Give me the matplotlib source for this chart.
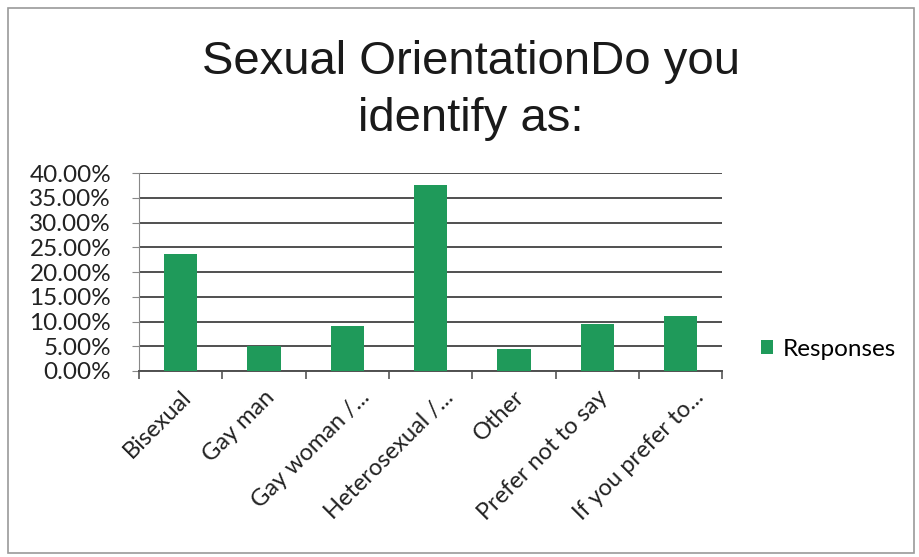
import matplotlib
matplotlib.use("Agg")
import matplotlib.pyplot as plt
from matplotlib.patches import Rectangle
from matplotlib.ticker import FuncFormatter, FixedLocator
from matplotlib.transforms import ScaledTranslation

categories = ["Bisexual", "Gay man", "Gay woman /...", "Heterosexual /...",
              "Other", "Prefer not to say", "If you prefer to..."]
responses = [23.6, 5.1, 9.0, 37.6, 4.5, 9.5, 11.2]
title = "Sexual OrientationDo you\nidentify as:"
series_name = "Responses"

green = "#1f9a5a"
tick_font = "Lato"

fig = plt.figure(figsize=(9.2, 5.57), dpi=100)
fig.patches.append(Rectangle((0.009, 0.008), 0.985, 0.978, transform=fig.transFigure,
                             fill=False, edgecolor="#9a9a9a", linewidth=1.2))
ax = fig.add_axes([0.151, 0.334, 0.634, 0.355])

x = list(range(len(categories)))
bars = ax.bar(x, responses, width=0.4, color=green, label=series_name, zorder=3)

ax.set_xlim(-0.5, len(categories) - 0.5)
ax.set_ylim(0, 40)
ax.set_yticks([0, 5, 10, 15, 20, 25, 30, 35, 40])
ax.yaxis.set_major_formatter(FuncFormatter(lambda v, p: f"{v:.2f}%"))
ax.grid(axis="y", color="#505050", linewidth=1.4, zorder=0)

ax.set_xticks(x)
ax.set_xticklabels(categories, rotation=45, ha="right", rotation_mode="anchor",
                   fontsize=17, family=tick_font, color="#222222")
ax.tick_params(axis="x", length=0, pad=11)
for lbl in ax.get_xticklabels():
    if lbl.get_text().endswith("..."):
        lbl.set_transform(lbl.get_transform() +
                          ScaledTranslation(0.12, 0.0, fig.dpi_scale_trans))
ax.xaxis.set_minor_locator(FixedLocator([i - 0.5 for i in range(len(categories) + 1)]))
ax.tick_params(axis="x", which="minor", length=6, color="#555555", width=1.2)
ax.tick_params(axis="y", length=5, color="#888888", labelsize=17.5, pad=15)
for lbl in ax.get_yticklabels():
    lbl.set_family(tick_font)
    lbl.set_color("#222222")

for s in ["top", "right"]:
    ax.spines[s].set_visible(False)
ax.spines["left"].set_color("#888888")
ax.spines["bottom"].set_color("#505050")
ax.spines["bottom"].set_linewidth(1.4)

fig.text(0.512, 0.838, title, ha="center", va="center", fontsize=34,
         family="Liberation Sans", color="#1a1a1a", linespacing=1.37)

leg = fig.legend(handles=[bars], labels=[series_name], loc="center left",
                 bbox_to_anchor=(0.803, 0.373), frameon=False,
                 prop={"family": tick_font, "size": 17.5},
                 handlelength=0.5, handleheight=0.5, handletextpad=0.4)

fig.savefig("out.png", dpi=100, facecolor="white")
